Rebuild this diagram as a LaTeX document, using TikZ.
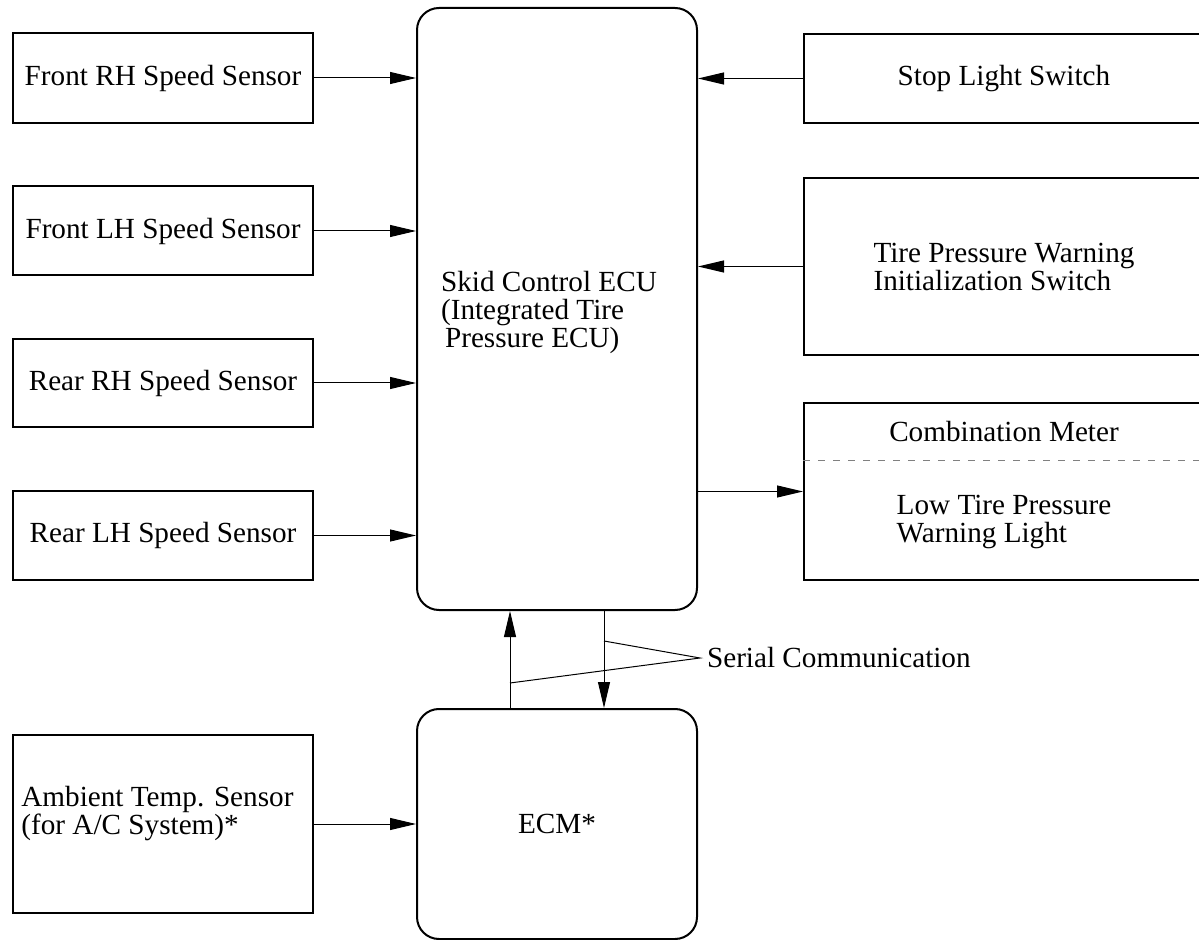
\documentclass[tikz,border=0pt]{standalone}
\usepackage{fontspec}
\setmainfont{Liberation Serif}
\usetikzlibrary{arrows.meta}

\begin{document}
\begin{tikzpicture}[x=0.5pt,y=-0.5pt,
  font=\fontsize{14.6}{14}\selectfont,
  box/.style={draw,line width=1pt,inner sep=0pt,minimum width=150pt},
  rbox/.style={draw,line width=1pt,inner sep=0pt,minimum width=200pt,align=left},
  ecu/.style={draw,line width=1pt,rounded corners=11pt,inner sep=0pt,minimum width=140pt,align=left},
  sig/.style={line width=0.5pt,-{Triangle[length=13pt,width=6pt]}}]
\clip (0,0) rectangle (1199,940);

% sensors on the left
\node[box,minimum height=45pt] (frh) at (163,78) {Front RH Speed Sensor};
\node[box,minimum height=44.5pt] (flh) at (163,231) {Front LH Speed Sensor};
\node[box,minimum height=44pt] (rrh) at (163,383) {Rear RH Speed Sensor};
\node[box,minimum height=44.5pt] (rlh) at (163,535.5) {Rear LH Speed Sensor};
\node[box,minimum height=89pt] (amb) at (163,824) {};
\node[anchor=west,align=left,inner sep=4.5pt] (ambtext) at ([yshift=5pt]amb.west)
  {Ambient Temp. Sensor\\(for A/C System)*};

% ECUs
\node[ecu,minimum height=301pt] (skid) at (557,309) {};
\node[anchor=west,align=left] (skidtext) at ([xshift=9pt,yshift=-1.5pt]skid.west)
  {Skid Control ECU\\(Integrated Tire\\\hspace{2pt}Pressure ECU)};
\node[ecu,minimum height=115pt] (ecm) at (557,824) {ECM*};

% switches and meter on the right
\node[rbox,minimum height=44.5pt] (stop) at (1004,78.5) {Stop Light Switch};
\node[rbox,minimum height=88.5pt] (init) at (1004,266.5)
  {Tire Pressure Warning\\Initialization Switch};
\node[rbox,minimum height=88.5pt] (meter) at (1004,491.5) {};
\draw[gray,line width=0.5pt,dash pattern=on 3.5pt off 4pt]
  ([yshift=-29.5pt]meter.north west) -- ([yshift=-29.5pt]meter.north east);
\node (metertext) at ([yshift=-14.75pt]meter.north) {Combination Meter};
\node[align=left] (lamp) at ([yshift=29.5pt]meter.south)
  {Low Tire Pressure\\Warning Light};

%-------------------------------------
\draw[sig] (frh.east) -- (skid.west |- frh.east);
\draw[sig] (flh.east) -- (skid.west |- flh.east);
\draw[sig] (rrh.east) -- (skid.west |- rrh.east);
\draw[sig] (rlh.east) -- (skid.west |- rlh.east);
\draw[sig] (amb.east) -- (ecm.west |- amb.east);
\draw[sig] (stop.west) -- (skid.east |- stop.west);
\draw[sig] (init.west) -- (skid.east |- init.west);
\draw[sig] (skid.east |- meter.west) -- (meter.west);

% serial communication
\draw[sig] ([xshift=-23.5pt]ecm.north) -- ([xshift=-23.5pt]skid.south);
\draw[sig] ([xshift=23.5pt]skid.south) -- ([xshift=23.5pt]ecm.north);
\coordinate (ser) at (700,658);
\node[anchor=west] (sertext) at (ser) {Serial Communication};
\draw[line width=0.5pt] ([xshift=23.5pt,yshift=-15pt]skid.south) -- (ser)
  -- ([xshift=-23.5pt,yshift=12.5pt]ecm.north);
\end{tikzpicture}
\end{document}
